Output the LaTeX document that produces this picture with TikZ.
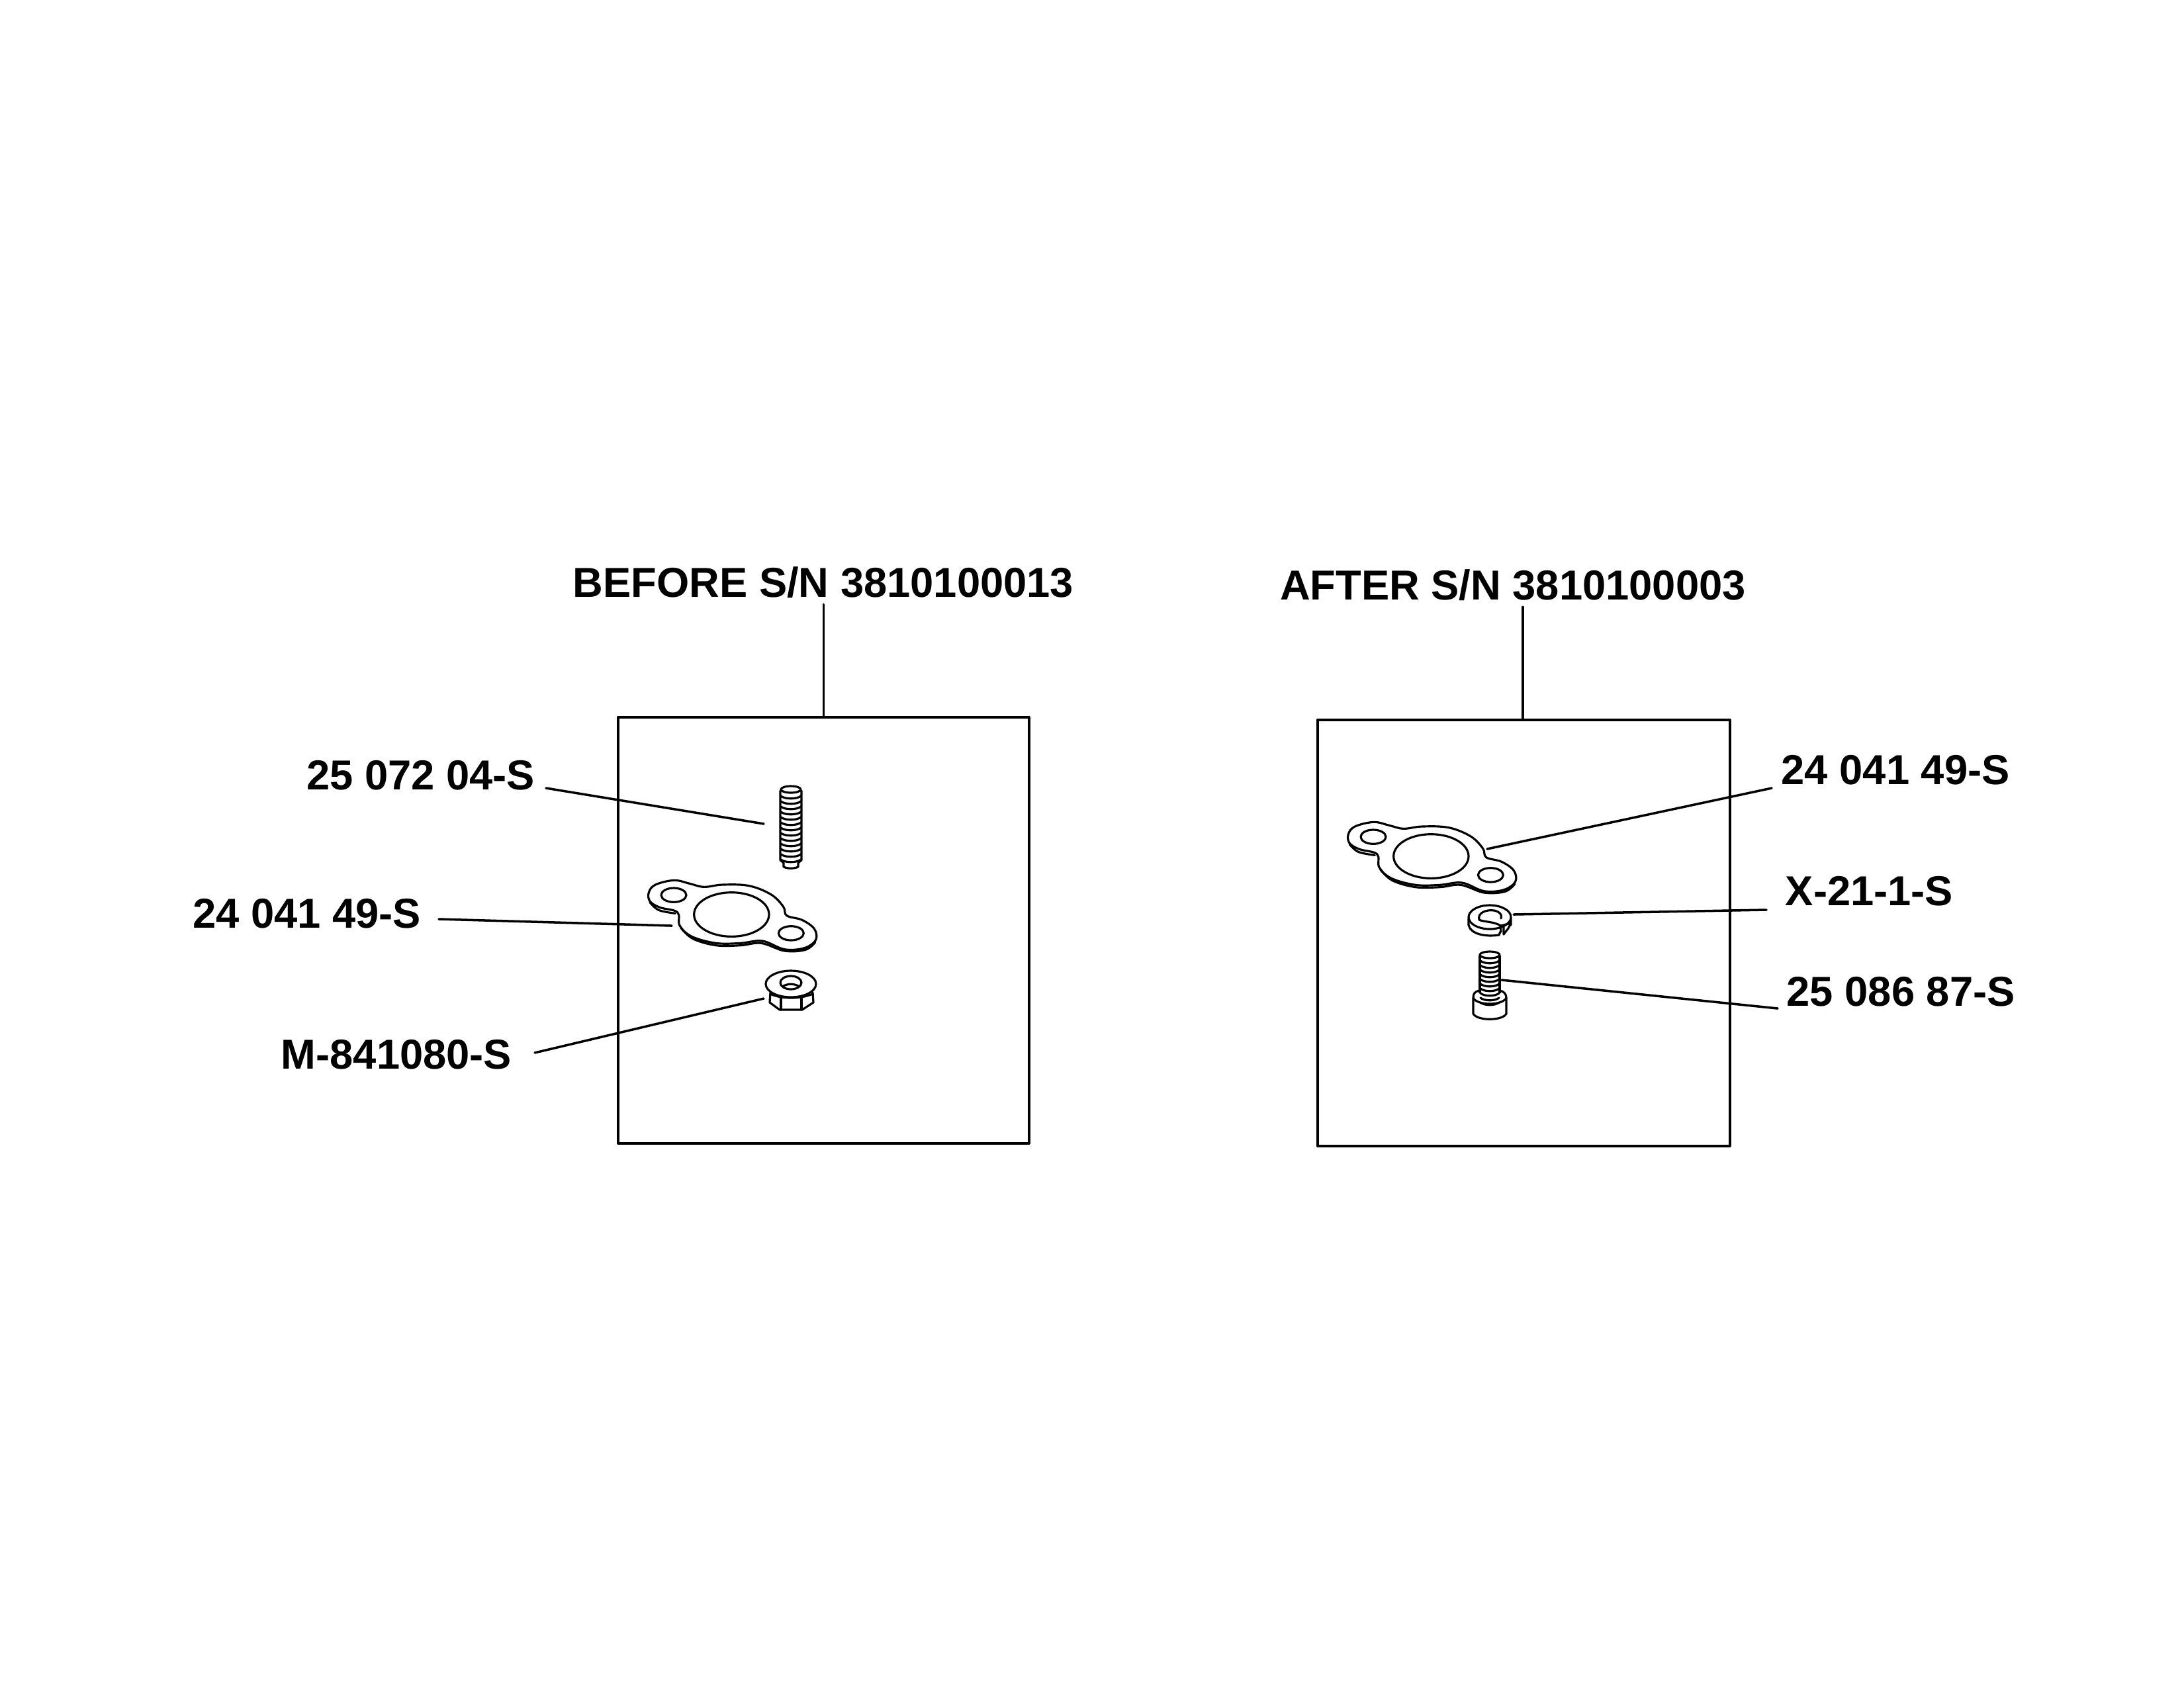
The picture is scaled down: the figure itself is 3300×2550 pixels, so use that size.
\documentclass[tikz,border=0pt]{standalone}
\usepackage{fontspec}
\setmainfont{Liberation Sans}
\begin{document}
\begin{tikzpicture}[x=0.01cm,y=-0.01cm,line width=1pt,line join=round,line cap=round,
  lbl/.style={font=\bfseries\fontsize{18}{20}\selectfont,inner sep=0pt},
  part/.style={line width=0.9pt}]
\useasboundingbox (0,0) rectangle (3300,2550);
% titles and boxes
\node[lbl] (t1) at (1244,880) {BEFORE S/N 3810100013};
\node[lbl] (t2) at (2286,884) {AFTER S/N 3810100003};
\node[draw,minimum width=621*0.01cm,minimum height=644*0.01cm,anchor=north west,inner sep=0pt] (b1) at (932,1082) {};
\node[draw,minimum width=623*0.01cm,minimum height=644*0.01cm,anchor=north west,inner sep=0pt] (b2) at (1989,1086) {};
\draw (t1.south -| b1.north) ++(0,8) coordinate (c1) -- (c1 |- b1.north);
\draw (t2.south) ++(15,8) coordinate (c2) -- (c2 |- b2.north);
% left labels
\node[lbl,anchor=east] (l1) at (810,1172) {25 072 04-S};
\node[lbl,anchor=east] (l2) at (638,1381) {24 041 49-S};
\node[lbl,anchor=east] (l3) at (775,1594) {M-841080-S};
\coordinate (e1) at (1154,1245);
\coordinate (e2) at (1015,1399);
\coordinate (e3) at (1154,1509);
\draw (l1.east) ++(15,19) -- (e1);
\draw (l2.east) ++(25,8) -- (e2);
\draw (l3.east) ++(33,-3) -- (e3);
% right labels
\node[lbl,anchor=west] (r1) at (2690,1164) {24 041 49-S};
\node[lbl,anchor=west] (r2) at (2696,1347) {X-21-1-S};
\node[lbl,anchor=west] (r3) at (2698,1499) {25 086 87-S};
\coordinate (f1) at (2247,1283);
\coordinate (f2) at (2287,1382);
\coordinate (f3) at (2269,1481);
\draw (r1.west) ++(-13,27) -- (f1);
\draw (r2.west) ++(-27,28) -- (f2);
\draw (r3.west) ++(-12,25) -- (f3);
% gasket macro (zoom-local coordinates)
\newcommand{\mygasket}{%
 \draw[part] plot[smooth cycle,tension=0.6] coordinates {(145,800)(175,765)(260,745)(330,760)(395,775)(480,765)(600,770)(700,810)(755,865)(770,905)(840,925)(895,965)(902,1015)(850,1052)(760,1058)(660,1020)(560,1030)(450,1030)(340,1000)(285,950)(275,890)(195,868)(150,840)};
 \draw[part] plot[smooth,tension=0.6] coordinates {(150,845)(190,880)(265,895)};
 \draw[part] plot[smooth,tension=0.6] coordinates {(290,960)(345,1010)(450,1040)(560,1040)(655,1030)(760,1065)(855,1060)(900,1025)};
 \draw[part] (520,900) ellipse (170 and 100);
 \draw[part] (258,812) ellipse (57 and 32);
 \draw[part] (790,985) ellipse (57 and 32);}
\begin{scope}[shift={(932,1082)},x=0.01cm/3,y=-0.01cm/3]\mygasket\end{scope}
\begin{scope}[shift={(1989,994)},x=0.01cm/3,y=-0.01cm/3]\mygasket\end{scope}
% stud
\draw[part] (1195,1193) ellipse (15 and 5);
\draw[part] (1179,1195) -- (1179,1300) -- (1184,1304) -- (1184,1310) .. controls (1190,1313) and (1200,1313) .. (1206,1310) -- (1206,1304) -- (1211,1300) -- (1211,1195);
\foreach \y in {1203,1211,...,1299}
  \draw[part] (1180,\y) .. controls (1186,\y+5) and (1204,\y+5) .. (1210,\y);
% flange nut
\draw[part] (1195,1487) ellipse (38 and 20);
\draw[part] (1195,1485) ellipse (16 and 10);
\draw[part] (1182,1491) .. controls (1190,1486) and (1200,1486) .. (1208,1491);
\draw[part] (1164,1500) -- (1163,1515) -- (1178,1526) -- (1212,1526) -- (1229,1515) -- (1228,1500);
\draw[part] (1180,1507) -- (1180,1526) (1211,1507) -- (1211,1526);
\draw[part] (1164,1502) .. controls (1180,1510) and (1210,1510) .. (1228,1502);
% lock washer
\draw[part] (2251,1386) ellipse (32 and 18);
\draw[part] (2219,1388) -- (2219,1398) .. controls (2222,1412) and (2245,1416) .. (2265,1413) -- (2267,1408);
\draw[part] (2272,1412) -- (2275,1408) .. controls (2280,1402) and (2283,1398) .. (2283,1388) -- (2283,1398);
\draw[part] (2267,1399) -- (2268,1408) (2272,1399) -- (2272,1412) (2267,1399) -- (2280,1396);
\draw[part] (2267,1399) .. controls (2260,1393) and (2240,1393) .. (2235,1390) .. controls (2232,1380) and (2245,1374) .. (2258,1376) .. controls (2266,1378) and (2270,1382) .. (2268,1388);
% socket cap screw
\draw[part] (2251,1443) ellipse (15 and 5);
\draw[part] (2236,1445) -- (2236,1500) (2266,1445) -- (2266,1500);
\foreach \y in {1452,1459,...,1515}
  \draw[part] (2237,\y) .. controls (2243,\y+5) and (2259,\y+5) .. (2265,\y);
\draw[part] (2236,1497) .. controls (2228,1498) and (2226,1502) .. (2226,1508) -- (2226,1532) .. controls (2232,1543) and (2270,1543) .. (2276,1532) -- (2276,1508) .. controls (2276,1502) and (2272,1498) .. (2266,1497);
\draw[part] (2226,1508) .. controls (2232,1520) and (2270,1520) .. (2276,1508);
\end{tikzpicture}
\end{document}
